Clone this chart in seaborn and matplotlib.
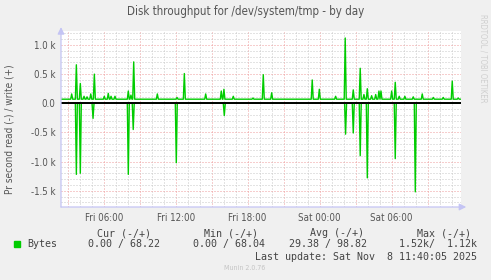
import matplotlib
matplotlib.use("Agg")
import matplotlib.pyplot as plt
import matplotlib.ticker as mticker
import numpy as np
import pandas as pd
import seaborn as sns

# ---------------- data (hours since Fri 00:00, bytes/s) ----------------
t_start, t_end = 2.44, 35.78
step = 1 / 12  # 5 minutes

write_baseline = 70
write_peak_hours = [3.33, 3.72, 4.05, 4.36, 4.61, 4.92, 5.22, 6.05, 6.38, 6.61, 6.94,
                    8.05, 8.27, 8.50, 10.47, 12.11, 12.72, 14.50, 15.80, 16.02, 16.80,
                    18.44, 19.30, 20.00, 23.38, 23.97, 25.33, 26.13, 26.80, 27.38, 27.69,
                    27.97, 28.33, 28.67, 28.94, 29.11, 30.00, 30.30, 30.63, 31.10, 31.80,
                    32.55, 33.47, 34.30, 35.05, 35.55]
write_peak_bytes = [160, 660, 340, 120, 110, 160, 500, 120, 170, 120, 120,
                    210, 140, 710, 160, 100, 510, 160, 210, 240, 120,
                    90, 490, 180, 400, 240, 120, 1120, 230, 600, 150,
                    250, 130, 150, 210, 210, 210, 360, 120, 120, 110,
                    160, 100, 100, 380, 90]

read_baseline = 0
read_peak_hours = [3.72, 4.05, 5.11, 8.05, 8.46, 12.05, 16.05, 26.16, 26.80, 27.38,
                   27.97, 30.30, 31.97]
read_peak_bytes = [1220, 1200, 260, 1220, 450, 1020, 210, 530, 510, 900,
                   1280, 950, 1520]

major_hours = [3, 6, 9, 12, 15, 18, 21, 24, 27, 30, 33]
major_labels = ["", "Fri 06:00", "", "Fri 12:00", "", "Fri 18:00", "",
                "Sat 00:00", "", "Sat 06:00", ""]
y_major = [-1500, -1000, -500, 0, 500, 1000]
y_labels = ["-1.5 k", "-1.0 k", "-0.5 k", "0.0", "0.5 k", "1.0 k"]

legend_headers = ["Cur (-/+)", "Min (-/+)", "Avg (-/+)", "Max (-/+)"]
legend_values = ["0.00 / 68.22", "0.00 / 68.04", "29.38 / 98.82", "1.52k/  1.12k"]


def series(peaks_t, peaks_v, base):
    pts = {t_start: base, t_end: base}
    for t, v in zip(peaks_t, peaks_v):
        pts.setdefault(round(t - step, 4), base)
        pts.setdefault(round(t + step, 4), base)
    for t, v in zip(peaks_t, peaks_v):
        pts[round(t, 4)] = v
    ks = sorted(pts)
    return pd.DataFrame({"hour": ks, "bytes": [pts[k] for k in ks]})


df_w = series(write_peak_hours, write_peak_bytes, write_baseline)
df_r = series(read_peak_hours, read_peak_bytes, read_baseline)
df_r["bytes"] = -df_r["bytes"]

# ---------------- figure ----------------
sns.set_style("white")
plt.rcParams["font.family"] = ["DejaVu Sans"]

W, H = 491, 280
fig = plt.figure(figsize=(W / 100, H / 100), dpi=100, facecolor="#F0F0F0")


def fx(px):
    return px / W


def fy(py):
    return 1 - py / H


ax = fig.add_axes([fx(61), fy(207), fx(400), 176 / H], facecolor="white")

green = "#00CC00"
sns.lineplot(data=df_w, x="hour", y="bytes", ax=ax, color=green, lw=1.0,
             estimator=None, sort=False, zorder=3)
sns.lineplot(data=df_r, x="hour", y="bytes", ax=ax, color=green, lw=1.0,
             estimator=None, sort=False, zorder=3)
ax.axhline(0, color="black", lw=1.4, zorder=4)

ax.set_xlim(t_start, t_end)
ax.set_ylim(-1780, 1240)

ax.set_xticks(major_hours)
ax.set_xticklabels(major_labels)
ax.xaxis.set_minor_locator(mticker.MultipleLocator(1))
ax.set_yticks(y_major)
ax.set_yticklabels(y_labels)
ax.yaxis.set_minor_locator(mticker.MultipleLocator(100))

ax.grid(which="minor", color="#C8C8C8", lw=0.72, linestyle=(0, (1, 2)), zorder=1)
ax.grid(which="major", color="#EE9C9C", lw=0.72, linestyle=(0, (1, 2)), zorder=2)
ax.set_axisbelow(True)

ax.tick_params(which="both", length=0, pad=4, colors="#555555")
for lab in ax.get_xticklabels() + ax.get_yticklabels():
    lab.set_fontfamily("DejaVu Sans")
    lab.set_fontstretch("condensed")
    lab.set_fontsize(7)
ax.set_xlabel("")
ax.set_ylabel("")
for s in ax.spines.values():
    s.set_visible(False)

# axis lines with arrows
axis_col = "#C4C4F4"
ax.annotate("", xy=(0, 1.022), xytext=(0, 0), xycoords="axes fraction",
            arrowprops=dict(arrowstyle="-|>,head_length=0.4,head_width=0.2",
                            color=axis_col, lw=0.9, shrinkA=0, shrinkB=0), zorder=5)
ax.annotate("", xy=(1.013, 0), xytext=(0, 0), xycoords="axes fraction",
            arrowprops=dict(arrowstyle="-|>,head_length=0.4,head_width=0.2",
                            color=axis_col, lw=0.9, shrinkA=0, shrinkB=0), zorder=5)

# titles and labels
fig.text(fx(245.5), fy(12), "Disk throughput for /dev/system/tmp - by day",
         ha="center", va="center", color="#555555", fontsize=8.3,
         fontstretch="condensed")
fig.text(fx(10), fy(129), "Pr second read (-) / write (+)", rotation=90,
         ha="center", va="center", color="#555555", fontsize=7.2,
         fontstretch="condensed")
fig.text(fx(483.5), fy(58), "RRDTOOL / TOBI OETIKER", rotation=270,
         ha="center", va="center", color="#CFCFCF", fontsize=5.6,
         fontstretch="condensed")

# legend block
mono = dict(family="DejaVu Sans Mono", fontsize=7.2, color="#444444", va="center")
header_x = [97, 204, 310, 417]
value_x = [88, 193, 289, 399]
for x, s in zip(header_x, legend_headers):
    fig.text(fx(x), fy(233), s, ha="left", **mono)
fig.patches.append(plt.Rectangle((fx(14), fy(247.3)), fx(6), 6 / H,
                                 transform=fig.transFigure, color=green))
fig.text(fx(27), fy(244.3), "Bytes", ha="left", **mono)
for x, s in zip(value_x, legend_values):
    fig.text(fx(x), fy(244.3), s, ha="left", **mono)
fig.text(fx(477), fy(256.7), "Last update: Sat Nov  8 11:40:05 2025", ha="right", **mono)
fig.text(fx(245), fy(268.5), "Munin 2.0.76", ha="center", va="center",
         color="#C4C4C4", fontsize=5.0, fontstretch="condensed")

fig.savefig("out.png", dpi=100, facecolor=fig.get_facecolor())
